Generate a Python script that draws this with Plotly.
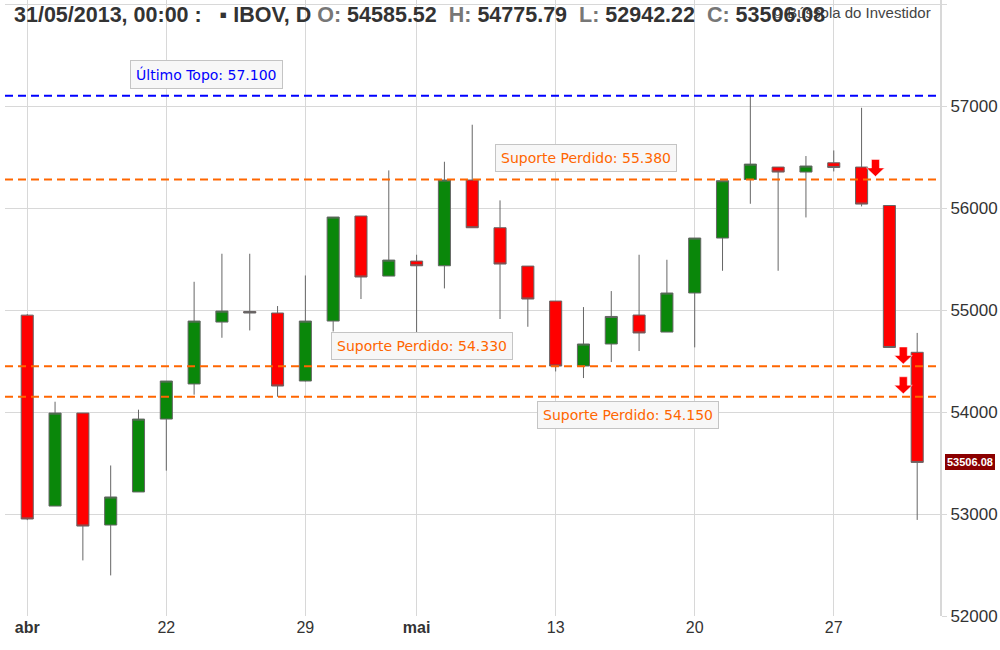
import plotly.graph_objects as go

# ---------------- data ----------------
dates = ["2013-04-15", "2013-04-16", "2013-04-17", "2013-04-18", "2013-04-19",
         "2013-04-22", "2013-04-23", "2013-04-24", "2013-04-25", "2013-04-26",
         "2013-04-29", "2013-04-30", "2013-05-02", "2013-05-03", "2013-05-06",
         "2013-05-07", "2013-05-08", "2013-05-09", "2013-05-10", "2013-05-13",
         "2013-05-14", "2013-05-15", "2013-05-16", "2013-05-17", "2013-05-20",
         "2013-05-21", "2013-05-22", "2013-05-23", "2013-05-24", "2013-05-27",
         "2013-05-28", "2013-05-29", "2013-05-31"]
opens = [54950, 53078, 53990, 52892, 53216, 53931, 54275, 54882, 54986, 54971,
         54304, 54892, 55922, 55333, 55480, 55434, 56275, 55807, 55431, 55088,
         54451, 54667, 54951, 54784, 55167, 55706, 56280, 56402, 56353, 56444,
         56402, 56025, 54585.52]
highs = [54960, 54101, 53990, 53476, 54023, 54304, 55277, 55552, 55552, 55039,
         55339, 55912, 55922, 56369, 55542, 56454, 56817, 56075, 55431, 55088,
         55029, 55186, 55542, 55493, 55706, 56268, 57101, 56402, 56510, 56565,
         56983, 56025, 54775.79]
lows = [52940, 53078, 52545, 52398, 53216, 53425, 54170, 54728, 54800, 54150,
        54300, 54790, 55108, 55333, 54760, 55212, 55807, 54912, 54836, 54398,
        54333, 54490, 54598, 54784, 54634, 55385, 56042, 55385, 55908, 56359,
        56016, 54633, 52942.22]
closes = [52951, 53990, 52882, 53167, 53931, 54304, 54892, 54990, 54971, 54255,
          54892, 55912, 55324, 55490, 55434, 56275, 55807, 55451, 55108, 54451,
          54667, 54937, 54775, 55167, 55706, 56268, 56431, 56353, 56412, 56398,
          56039, 54633, 53506.08]

tick_dates = ["2013-04-15", "2013-04-22", "2013-04-29", "2013-05-06",
              "2013-05-13", "2013-05-20", "2013-05-27"]
tick_labels = ["<b>abr</b>", "22", "29", "<b>mai</b>", "13", "20", "27"]

level_values = [57100, 56280, 54450, 54150]
level_colors = ["#0000ff", "#ff6600", "#ff6600", "#ff6600"]

label_texts = ["Último Topo: 57.100", "Suporte Perdido: 55.380",
               "Suporte Perdido: 54.330", "Suporte Perdido: 54.150"]
label_colors = ["#0000ff", "#ff6600", "#ff6600", "#ff6600"]
label_x = [6.44, 20.1, 14.19, 21.61]
label_y = [57310, 56493, 54650, 53974]

signal_x = [30.5, 31.5, 31.5]
signal_y = [56310, 54471, 54179]

y_ticks = [52000, 53000, 54000, 55000, 56000, 57000, 58000]

# ---------------- figure ----------------
idx = list(range(len(dates)))
pos = {d: i for i, d in enumerate(dates)}

fig = go.Figure()
fig.add_trace(go.Candlestick(
    x=idx, open=opens, high=highs, low=lows, close=closes,
    increasing=dict(line=dict(color="#666666", width=1), fillcolor="#0a870a"),
    decreasing=dict(line=dict(color="#666666", width=1), fillcolor="#ff0000"),
    whiskerwidth=0, showlegend=False, hoverinfo="skip",
))

shapes = []
for v, c in zip(level_values, level_colors):
    shapes.append(dict(type="line", xref="paper", x0=0, x1=1, yref="y", y0=v, y1=v,
                       line=dict(color=c, width=2, dash="8px,5px"), layer="above"))

arrow_path = "M0,0 L-9,8.5 L-4,8.5 L-4,17 L4,17 L4,8.5 L9,8.5 Z"
for sx, sy in zip(signal_x, signal_y):
    shapes.append(dict(type="path", xref="x", yref="y",
                       xsizemode="pixel", ysizemode="pixel",
                       xanchor=sx, yanchor=sy, path=arrow_path,
                       fillcolor="#ff0000", line=dict(color="#ffffff", width=0.5),
                       layer="above"))

annotations = []
for t, c, lx, ly in zip(label_texts, label_colors, label_x, label_y):
    annotations.append(dict(x=lx, y=ly, xref="x", yref="y", text=t, showarrow=False,
                            font=dict(family="DejaVu Sans", size=14, color=c),
                            bgcolor="#f7f7f7", bordercolor="#c4c4c4", borderwidth=1,
                            borderpad=5))

# last price label
annotations.append(dict(x=1, xref="paper", xanchor="left", xshift=5,
                        y=closes[-1], yref="y", text="<b>%.2f</b>" % closes[-1],
                        showarrow=False, bgcolor="#8b0000", bordercolor="#8b0000",
                        borderpad=1,
                        font=dict(family="Liberation Sans", size=11, color="#ffffff")))

# watermark
annotations.append(dict(x=0.9925, xref="paper", xanchor="right", y=1, yref="paper",
                        yanchor="middle", yshift=-12, showarrow=False,
                        text="© Bússola do Investidor",
                        font=dict(family="Liberation Sans", size=15, color="#444444")))

# header
g = lambda s: "<span style='color:#777777'>%s</span>" % s
sp = "\u00a0"
header = ("<b>31/05/2013, 00:00 :" + sp * 3 + "▪ IBOV, D " + g("O:") + " %.2f" % opens[-1]
          + sp * 2 + g("H:") + " %.2f" % highs[-1]
          + sp * 2 + g("L:") + " %.2f" % lows[-1]
          + sp * 2 + g("C:") + " %.2f" % closes[-1] + "</b>")
annotations.append(dict(x=0.0075, xref="paper", xanchor="left", y=1, yref="paper",
                        yanchor="middle", yshift=-15, showarrow=False, text=header,
                        font=dict(family="Liberation Sans", size=21.5, color="#333333")))

fig.update_layout(
    width=1000, height=650,
    margin=dict(l=5, r=60, t=0, b=34),
    paper_bgcolor="#ffffff", plot_bgcolor="#ffffff",
    boxgap=0.38,
    shapes=shapes, annotations=annotations,
    xaxis=dict(type="linear", range=[-0.80, 32.82],
               tickvals=[pos[d] for d in tick_dates], ticktext=tick_labels,
               showgrid=True, gridcolor="#d8d8d8", gridwidth=1, zeroline=False,
               showline=False, ticks="",
               tickfont=dict(family="Liberation Sans", size=16, color="#333333"),
               rangeslider=dict(visible=False), fixedrange=True),
    yaxis=dict(side="right", range=[52000, 58040], tickvals=y_ticks, tickformat="d",
               showgrid=True, gridcolor="#d8d8d8", gridwidth=1, zeroline=False,
               showline=True, linecolor="#d8d8d8", linewidth=2,
               ticks="outside", ticklen=5, tickcolor="#d8d8d8", fixedrange=True,
               tickfont=dict(family="Liberation Sans", size=17, color="#333333")),
    showlegend=False,
)

fig.write_html("out.html", config={"displayModeBar": False},
               post_script="document.body.style.margin='0px';")
